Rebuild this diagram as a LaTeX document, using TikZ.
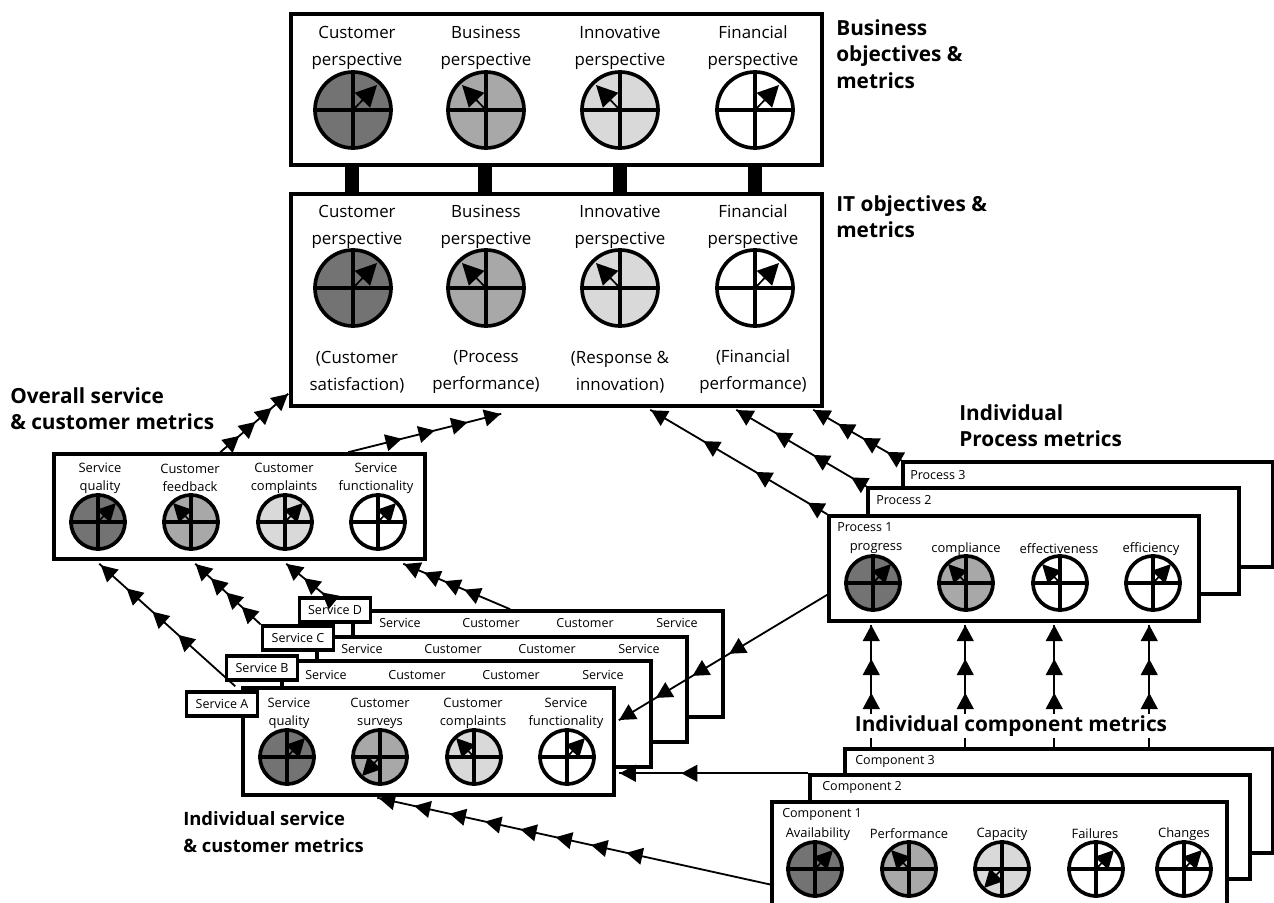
\documentclass[tikz,border=0pt]{standalone}
\usepackage{fontspec}
\setmainfont{Open Sans}
\usetikzlibrary{arrows.meta,calc,decorations.markings,fit}

\definecolor{dialdark}{gray}{0.45}
\definecolor{dialmid}{gray}{0.66}
\definecolor{diallight}{gray}{0.85}

\tikzset{
    panel/.style={draw,line width=2.5pt,fill=white,inner sep=0pt},
    tagbox/.style={draw,line width=2.5pt,fill=white,inner sep=0pt,minimum width=1.78cm,minimum height=0.59cm,font=\fontsize{8.9}{9}\selectfont},
    bigtext/.style={align=center,inner sep=0pt,font=\fontsize{12}{19.2}\selectfont},
    smalltext/.style={align=center,inner sep=0pt,font=\fontsize{9.2}{12.8}\selectfont},
    headtext/.style={align=left,inner sep=0pt,font=\fontsize{14.8}{19}\selectfont\bfseries},
    linktext/.style={inner sep=0pt,anchor=west,font=\fontsize{8.9}{9}\selectfont},
    bigdial/.style={draw,circle,line width=2.6pt,inner sep=0pt,minimum size=1.9cm},
    smalldial/.style={draw,circle,line width=2.6pt,inner sep=0pt,minimum size=1.35cm},
    bigtip/.tip={Triangle[length=15pt,width=15pt]},
    smalltip/.tip={Triangle[length=13pt,width=13pt]},
    flow/.style={line width=1.3pt,postaction={decorate},decoration={markings,
        mark=between positions #1 with {\arrow{Triangle[length=11.5pt,width=12pt]}}}},
}

% name, centre x, centre y, big or small, fill, arrow dx, arrow dy
\newcommand{\dialat}[7]{
    \node[#4dial,fill=#5] (#1) at (#2,#3) {};
    \draw[line width=2.3pt] (#1.north) -- (#1.south);
    \draw[line width=2.3pt] (#1.west) -- (#1.east);
    \draw[line width=1.2pt,-#4tip] (#1.center) -- ++(#6,#7);
}

\begin{document}
\begin{tikzpicture}[x=0.025cm,y=-0.025cm]
    \clip (0,0) rectangle (1274,902);

    % objectives
    \node[panel,fit={(291,14) (822,165)}] (BIZBOX) {};
    \node[panel,fit={(291,194) (822,406)}] (ITBOX) {};
    \foreach \x in {352,485,620,755}
        \fill (\x-7,165) rectangle (\x+7,194);

    \node[bigtext] (BIZA) at (357,48) {Customer\\perspective};
    \node[bigtext] (BIZB) at (486,48) {Business\\perspective};
    \node[bigtext] (BIZC) at (620,48) {Innovative\\perspective};
    \node[bigtext] (BIZD) at (753,48) {Financial\\perspective};
    \dialat{BIZDA}{353}{110}{big}{dialdark}{24}{-25}
    \dialat{BIZDB}{486}{110}{big}{dialmid}{-24}{-25}
    \dialat{BIZDC}{620}{110}{big}{diallight}{-24}{-25}
    \dialat{BIZDD}{755}{110}{big}{white}{24}{-25}

    \node[bigtext] (ITA) at (357,227) {Customer\\perspective};
    \node[bigtext] (ITB) at (486,227) {Business\\perspective};
    \node[bigtext] (ITC) at (620,227) {Innovative\\perspective};
    \node[bigtext] (ITD) at (753,227) {Financial\\perspective};
    \dialat{ITDA}{353}{288}{big}{dialdark}{24}{-25}
    \dialat{ITDB}{486}{288}{big}{dialmid}{-24}{-25}
    \dialat{ITDC}{620}{288}{big}{diallight}{-24}{-25}
    \dialat{ITDD}{755}{288}{big}{white}{24}{-25}
    \node[bigtext] (ITE) at (357,372) {(Customer\\satisfaction)};
    \node[bigtext] (ITF) at (486,372) {(Process\\performance)};
    \node[bigtext] (ITG) at (620,372) {(Response \&\\innovation)};
    \node[bigtext] (ITH) at (753,372) {(Financial\\performance)};

    \node[headtext,anchor=north west] (BIZHEAD) at (836,19) {Business\\objectives \&\\metrics};
    \node[headtext,anchor=north west] (ITHEAD) at (836,195) {IT objectives \&\\metrics};

    % overall service
    \node[panel,fit={(54,454) (425,559)}] (OVERALL) {};
    \node[smalltext] (OVA) at (100,478) {Service\\quality};
    \node[smalltext] (OVB) at (190,478) {Customer\\feedback};
    \node[smalltext] (OVC) at (284,478) {Customer\\complaints};
    \node[smalltext] (OVD) at (376,478) {Service\\functionality};
    \dialat{OVDA}{98}{522}{small}{dialdark}{18}{-19}
    \dialat{OVDB}{191}{522}{small}{dialmid}{-18}{-19}
    \dialat{OVDC}{285}{522}{small}{diallight}{18}{-19}
    \dialat{OVDD}{378}{522}{small}{white}{18}{-19}
    \node[headtext,anchor=north west] (OVHEAD) at (10,387) {Overall service\\\& customer metrics};

    % services
    \node[panel,fit={(353,611) (723,717)}] (SERVD) {};
    \node[panel,fit={(317,637) (687,742)}] (SERVC) {};
    \node[panel,fit={(282,661) (651,767)}] (SERVB) {};
    \node[panel,fit={(243,688) (614,795)}] (SERVA) {};
    \node[tagbox] (TAGD) at (335,610) {Service D};
    \node[tagbox] (TAGC) at (298,638) {Service C};
    \node[tagbox] (TAGB) at (262,668) {Service B};
    \node[tagbox] (TAGA) at (222,704) {Service A};
    \node[linktext,anchor=center] (DA) at (400,623) {Service};
    \node[linktext,anchor=center] (DB) at (491,623) {Customer};
    \node[linktext,anchor=center] (DC) at (585,623) {Customer};
    \node[linktext,anchor=center] (DD) at (677,623) {Service};
    \node[linktext,anchor=center] (CA) at (362,649) {Service};
    \node[linktext,anchor=center] (CB) at (453,649) {Customer};
    \node[linktext,anchor=center] (CC) at (547,649) {Customer};
    \node[linktext,anchor=center] (CD) at (639,649) {Service};
    \node[linktext,anchor=center] (BA) at (326,675) {Service};
    \node[linktext,anchor=center] (BB) at (417,675) {Customer};
    \node[linktext,anchor=center] (BC) at (511,675) {Customer};
    \node[linktext,anchor=center] (BD) at (603,675) {Service};
    \node[smalltext] (AA) at (289,713) {Service\\quality};
    \node[smalltext] (AB) at (380,713) {Customer\\surveys};
    \node[smalltext] (AC) at (473,713) {Customer\\complaints};
    \node[smalltext] (AD) at (566,713) {Service\\functionality};
    \dialat{ADA}{287}{757}{small}{dialdark}{18}{-19}
    \dialat{ADB}{380}{757}{small}{dialmid}{-18}{19}
    \dialat{ADC}{474}{757}{small}{diallight}{-18}{-19}
    \dialat{ADD}{567}{757}{small}{white}{18}{-19}
    \node[headtext,anchor=north west,font=\fontsize{13.1}{19}\selectfont\bfseries] (AHEAD) at (183,811) {Individual service\\\& customer metrics};

    % processes
    \node[panel,fit={(903,462) (1273,567)}] (PROCC) {};
    \node[panel,fit={(868,488) (1239,594)}] (PROCB) {};
    \node[panel,fit={(829,516) (1199,621)}] (PROCA) {};
    \node[linktext] (PCL) at (910,475) {Process 3};
    \node[linktext] (PBL) at (876,500) {Process 2};
    \node[linktext] (PAL) at (837,527) {Process 1};
    \node[smalltext] (PA) at (876,549) {progress};
    \node[smalltext] (PB) at (966,549) {compliance};
    \node[smalltext] (PC) at (1059,549) {effectiveness};
    \node[smalltext] (PD) at (1151,549) {efficiency};
    \dialat{PDA}{873}{583}{small}{dialdark}{18}{-19}
    \dialat{PDB}{966}{583}{small}{dialmid}{-18}{-19}
    \dialat{PDC}{1060}{583}{small}{white}{-18}{-19}
    \dialat{PDD}{1153}{583}{small}{white}{18}{-19}
    \node[headtext,anchor=north west] (PHEAD) at (959,404) {Individual\\Process metrics};

    % components
    \node[panel,fit={(845,749) (1273,853)}] (COMPC) {};
    \node[panel,fit={(810,775) (1250,879)}] (COMPB) {};
    \node[panel,fit={(772,802) (1227,915)}] (COMPA) {};
    \node[linktext] (CCL) at (855,761) {Component 3};
    \node[linktext] (CBL) at (822,787) {Component 2};
    \node[linktext] (CAL) at (782,814) {Component 1};
    \node[smalltext] (MA) at (818,834) {Availability};
    \node[smalltext] (MB) at (909,834) {Performance};
    \node[smalltext] (MC) at (1002,834) {Capacity};
    \node[smalltext] (MD) at (1095,834) {Failures};
    \node[smalltext] (ME) at (1184,834) {Changes};
    \dialat{MDA}{815}{869}{small}{dialdark}{18}{-19}
    \dialat{MDB}{909}{869}{small}{dialmid}{-18}{-19}
    \dialat{MDC}{1002}{869}{small}{diallight}{-18}{19}
    \dialat{MDD}{1096}{869}{small}{white}{18}{-19}
    \dialat{MDE}{1184}{869}{small}{white}{18}{-19}

    % connectors
    \draw[flow=0.28 and 1 step 0.239] ($(OVERALL.north west)+(168,0)$) -- ($(ITBOX.south west)+(-1,-14)$);
    \draw[flow=0.35 and 1 step 0.215] ($(OVERALL.north west)+(296,0)$) -- ($(ITBOX.south west)+(212,6)$);
    \draw[flow=0.11 and 1 step 0.295] (PROCA.north west) -- ($(ITBOX.south west)+(361,2)$);
    \draw[flow=0.115 and 1 step 0.294] (PROCB.north west) -- ($(ITBOX.south west)+(447,2)$);
    \draw[flow=0.165 and 1 step 0.277] (PROCC.north west) -- ($(ITBOX.south west)+(524,2)$);
    \draw[flow=0.47 and 1 step 0.176] ($(PROCA.south west)+(0,-28)$) -- ($(SERVA.north east)+(3,34)$);
    \draw[flow=0.42 and 1 step 0.19] ($(SERVA.north west)+(-6,0)$) -- ($(OVERALL.south west)+(47,3)$);
    \draw[flow=0.29 and 1 step 0.235] (TAGC.north west) -- ($(OVERALL.south west)+(143,3)$);
    \draw[flow=0.125 and 1 step 0.435] ($(TAGD.north west)+(29,0)$) -- ($(OVERALL.south west)+(234,3)$);
    \draw[flow=0.43 and 1 step 0.188] ($(SERVD.north west)+(159,0)$) -- ($(OVERALL.south west)+(351,3)$);
    \draw[flow=0.67 and 1 step 0.325] (COMPB.north west) -- ($(SERVA.east |- COMPB.north west)+(3,0)$);
    \draw[flow=0.366 and 1 step 0.09] ($(COMPA.west)+(0,26)$) -- ($(SERVA.south west)+(136,1)$);
    \foreach \x in {44,138,227,322}
        \draw[flow=0.444 and 1 step 0.277] ($(COMPC.north west)+(\x+-16,0)$) -- ($(PROCA.south west)+(\x,2)$);

    \node[headtext,fill=white,inner xsep=1pt,inner ysep=1pt,anchor=center] (COMPHEAD) at (1011,726) {Individual component metrics};
\end{tikzpicture}
\end{document}
